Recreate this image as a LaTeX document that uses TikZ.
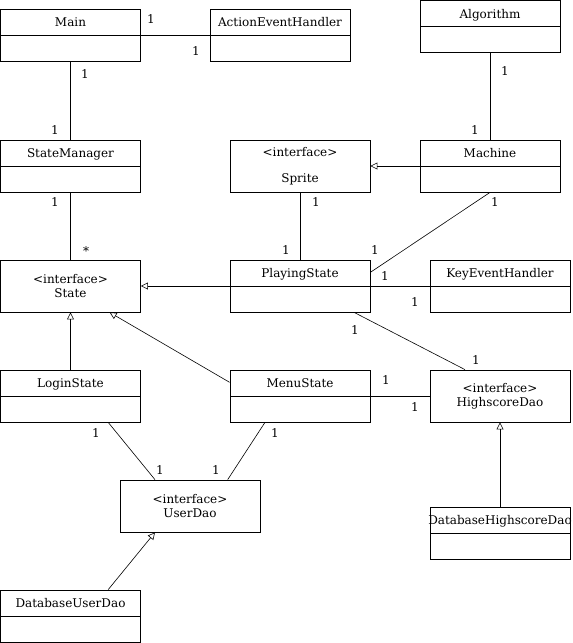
\documentclass[tikz,border=0pt]{standalone}
\usepackage{fontspec}
\setmainfont{DejaVu Serif}
\usetikzlibrary{arrows.meta}

\begin{document}
\begin{tikzpicture}[
    x=1pt, y=-1pt,
    every node/.style={font=\fontsize{12}{14}\selectfont},
    umlclass/.style={draw, line width=0.8pt, minimum width=140pt, minimum height=52pt,
      inner sep=0pt, text height=9.5pt, text depth=26.5pt,
      path picture={\draw[line width=0.8pt] (path picture bounding box.west) -- (path picture bounding box.east);}},
    umliface/.style={draw, line width=0.8pt, minimum width=140pt, minimum height=52pt,
      inner sep=0pt, align=center},
    mult/.style={inner sep=0pt},
    assoc/.style={line width=0.6pt},
    realize/.style={line width=0.6pt, -{Triangle[open, length=7pt, width=7pt]}}
  ]
    \useasboundingbox (0,0) rectangle (573,643);

    %=== luokat ===%
    \node[umlclass] (main)     at (70.5, 35)  {Main};
    \node[umlclass] (action)   at (280, 35)   {ActionEventHandler};
    \node[umlclass] (algo)     at (490, 26.5) {Algorithm};
    \node[umlclass] (manager)  at (70.5, 166) {StateManager};
    \node[umliface] (sprite)   at (300, 166)  {<interface>\\[12pt]Sprite};
    \node[umlclass] (machine)  at (490, 166)  {Machine};
    \node[umliface] (state)    at (70.5, 286) {<interface>\\State};
    \node[umlclass] (playing)  at (300, 286)  {PlayingState};
    \node[umlclass] (keyev)    at (500, 286)  {KeyEventHandler};
    \node[umlclass] (login)    at (70.5, 396) {LoginState};
    \node[umlclass] (menu)     at (300, 396)  {MenuState};
    \node[umliface] (hsdao)    at (500, 396)  {<interface>\\HighscoreDao};
    \node[umliface] (userdao)  at (190, 506)  {<interface>\\UserDao};
    \node[umlclass] (dbhsdao)  at (500, 533)  {\makebox[0pt]{DatabaseHighscoreDao}};
    \node[umlclass] (dbuserdao) at (70.5, 616) {DatabaseUserDao};

    %=== assosiaatiot ===%
    \draw[assoc] (main) -- (action);
    \draw[assoc] (main) -- (manager);
    \draw[assoc] (algo) -- (machine);
    \draw[assoc] (manager) -- (state);
    \draw[assoc] (sprite) -- (playing);
    \draw[assoc] (machine.south) -- (playing.11.3);
    \draw[assoc] (playing) -- (keyev);
    \draw[assoc] (playing.-26.6) -- (hsdao.143.4);
    \draw[assoc] (menu) -- (hsdao);
    \draw[assoc] (login.-35.8) -- (userdao.143.4);
    \draw[assoc] (menu.-143.4) -- (userdao.35.8);

    %=== toteutukset ===%
    \draw[realize] (machine) -- (sprite);
    \draw[realize] (playing) -- (state);
    \draw[realize] (login) -- (state);
    \draw[realize] (menu.169.5) -- (state.-34.4);
    \draw[realize] (dbuserdao.35.8) -- (userdao.-143.4);
    \draw[realize] (dbhsdao) -- (hsdao);

    %=== kertaluvut ===%
    \node[mult] (m1)  at (151, 19)  {1};
    \node[mult] (m2)  at (196, 51)  {1};
    \node[mult] (m3)  at (85, 74)   {1};
    \node[mult] (m4)  at (55, 130)  {1};
    \node[mult] (m5)  at (505, 71)  {1};
    \node[mult] (m6)  at (475, 130) {1};
    \node[mult] (m7)  at (55, 202)  {1};
    \node[mult] (m8)  at (86, 251)  {*};
    \node[mult] (m9)  at (316, 202) {1};
    \node[mult] (m10) at (286, 250) {1};
    \node[mult] (m11) at (495, 202) {1};
    \node[mult] (m12) at (375, 250) {1};
    \node[mult] (m13) at (385, 276) {1};
    \node[mult] (m14) at (415, 302) {1};
    \node[mult] (m15) at (355, 330) {1};
    \node[mult] (m16) at (476, 360) {1};
    \node[mult] (m17) at (386, 380) {1};
    \node[mult] (m18) at (415, 407) {1};
    \node[mult] (m19) at (96, 433)  {1};
    \node[mult] (m20) at (160, 470) {1};
    \node[mult] (m21) at (216, 470) {1};
    \node[mult] (m22) at (275, 433) {1};

  \end{tikzpicture}
\end{document}
